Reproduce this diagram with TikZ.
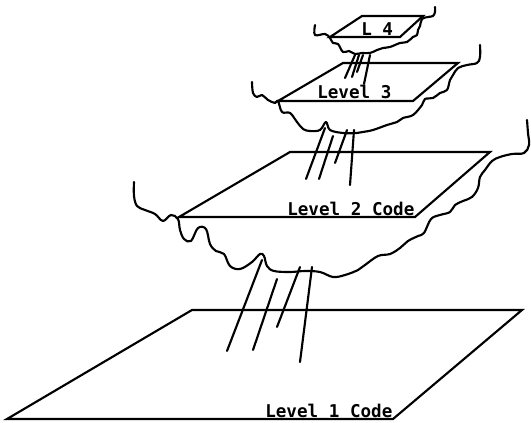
\documentclass[tikz,border=0pt]{standalone}
\usepackage{fontspec}
\newfontfamily\plotterfont{DejaVu Sans Mono}
\begin{document}
\begin{tikzpicture}[x=0.75pt,y=-0.75pt,
  plane/.style={line width=1.6pt, line join=miter},
  wave/.style={line width=1.6pt, line cap=round, line join=round},
  ray/.style={line width=1.6pt, line cap=round},
  lbl/.style={font=\plotterfont\bfseries\fontsize{13.2}{13.2}\selectfont, inner sep=0pt, anchor=base west}]
\useasboundingbox (0,0) rectangle (531,423);

% ---------- Level 1 ----------
\draw[plane] (192,310) -- (522,310) -- (393,419) -- (7,419) -- cycle;
\node[lbl] (l1) at (265,417) {Level 1 Code};

% rays from level 2 down to level 1
\draw[ray] (262,260) -- (227,351);
\draw[ray] (277,279) -- (253,350);
\draw[ray] (300,267) -- (277,327);
\draw[ray] (312,267) -- (300,362);

% ---------- Level 2 ----------
\draw[plane] (290,152) -- (490,152) -- (415,217) -- (179,217) -- cycle;
\node[lbl] (l2) at (287,216) {Level 2 Code};
\draw[wave] plot[smooth, tension=0.6] coordinates {
  (134,182) (134,196) (137,206) (145,210) (155,214) (163,221) (171,215)
  (178,219) (180,230) (184,239) (191,241) (198,228) (206,229) (210,244)
  (216,251) (224,254) (230,266) (240,269) (252,262) (260,254) (264,256)
  (267,266) (274,271) (290,272) (305,271) (320,272) (333,277) (345,275)
  (358,270) (365,265) (378,256) (390,254) (400,248) (408,241) (418,236)
  (424,233) (431,219) (440,215) (450,212) (455,205) (463,201) (472,197)
  (478,188) (480,177) (485,170) (492,161) (500,157) (512,154) (524,153)
  (529,145) (528,133) (527,120)};

% rays from level 3 down to level 2
\draw[ray] (325,128) -- (306,179);
\draw[ray] (333,136) -- (319,179);
\draw[ray] (347,130) -- (335,163);
\draw[ray] (354,130) -- (350,185);

% ---------- Level 3 ----------
\draw[plane] (343,63) -- (458,63) -- (413,101) -- (278,101) -- cycle;
\node[lbl] (l3) at (317,99) {Level 3};
\draw[wave] plot[smooth, tension=0.6] coordinates {
  (252,82) (253,93) (257,97) (262,95) (268,100) (275,103) (278,101)
  (282,112) (290,113) (297,122) (303,129) (310,131) (320,130) (326,122)
  (330,130) (343,133) (357,133) (363,132) (373,130) (387,125) (397,122)
  (403,118) (413,115) (422,105) (425,99) (433,98) (440,93) (447,90)
  (450,80) (453,75) (458,68) (467,65) (477,63) (480,57) (480,45)};

% rays from level 4 down to level 3
\draw[ray] (355,55) -- (345,78);
\draw[ray] (359,55) -- (352,77);
\draw[ray] (363,55) -- (357,72);
\draw[ray] (370,55) -- (364,84);

% ---------- Level 4 ----------
\draw[plane] (362,16) -- (423,16) -- (400,37) -- (330,37) -- cycle;
\node[lbl] (l4) at (361,36) {L 4};
\draw[wave] plot[smooth, tension=0.6] coordinates {
  (315,25) (315,35) (325,34) (330,38) (333,43) (338,44) (343,52)
  (349,51) (355,54) (362,53) (370,53) (377,50) (383,48) (390,47)
  (400,43) (407,42) (413,37) (417,35) (418,30) (420,26) (422,19)
  (428,17) (433,16) (435,12) (435,7)};
\end{tikzpicture}
\end{document}
